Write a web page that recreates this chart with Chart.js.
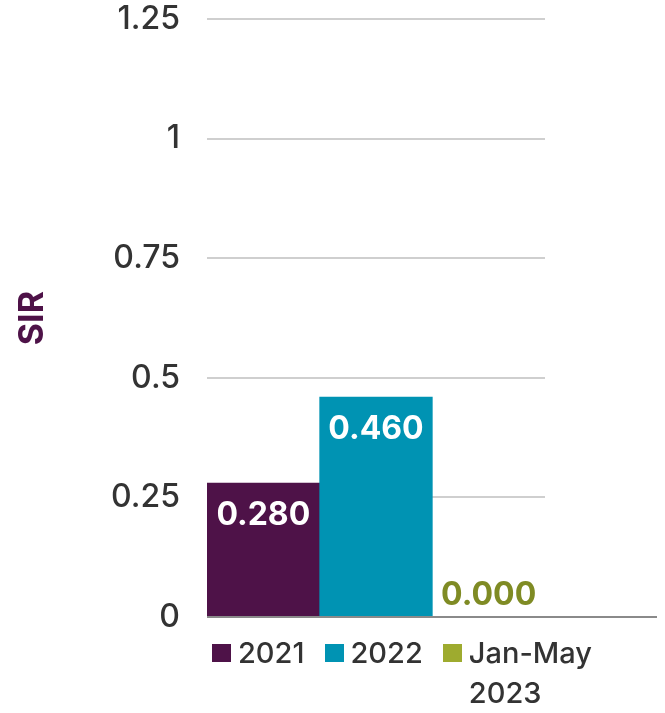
<!DOCTYPE html>
<html>
<head>
<meta charset="utf-8">
<script src="https://cdn.jsdelivr.net/npm/chart.js@4/dist/chart.umd.min.js"></script>
<style>
  body { margin: 0; background: #fff; }
  #wrap { position: relative; width: 665px; height: 713px; }
  #legend {
    position: absolute; left: 212px; top: 633px; width: 400px;
    display: flex; align-items: flex-start;
    font-family: Inter, sans-serif; font-size: 29px; font-weight: 500; line-height: 40px; color: #333;
  }
  .item { display: flex; align-items: flex-start; margin-right: 20px; }
  .item:last-child { margin-right: 0; }
  .box { width: 19px; height: 18px; margin-top: 11px; margin-right: 7px; flex-shrink: 0; }
</style>
</head>
<body>
<div id="wrap">
  <canvas id="chart" width="665" height="713"></canvas>
  <div id="legend"></div>
</div>
<script>
// chart data
const periods = ['2021', '2022', 'Jan-May 2023'];
const sirValues = [0.280, 0.460, 0.000];
const barColors = ['#4e1248', '#0093b3', '#9eab2f'];
const labelColors = ['#ffffff', '#ffffff', '#7f8b24'];

const fontFamily = 'Inter, sans-serif';

// draws the value labels on top of each bar
const valueLabels = {
    id: 'valueLabels',
    afterDatasetsDraw(chart) {
        const ctx = chart.ctx;
        const meta = chart.getDatasetMeta(0);
        ctx.save();
        ctx.font = 'bold 32px ' + fontFamily;
        ctx.textAlign = 'center';
        ctx.textBaseline = 'middle';
        meta.data.forEach((bar, i) => {
            const v = sirValues[i];
            ctx.fillStyle = labelColors[i];
            const y = v > 0 ? bar.y + 32 : bar.y - 22;
            ctx.fillText(v.toFixed(3), bar.x, y);
        });
        ctx.restore();
    }
};

// the zero line runs past the plot area
const baseLine = {
    id: 'baseLine',
    afterDatasetsDraw(chart) {
        const ctx = chart.ctx;
        const y = chart.scales.y.getPixelForValue(0);
        ctx.save();
        ctx.strokeStyle = '#8a8a8a';
        ctx.lineWidth = 2;
        ctx.beginPath();
        ctx.moveTo(chart.chartArea.left, y);
        ctx.lineTo(chart.width - 8, y);
        ctx.stroke();
        ctx.restore();
    }
};

new Chart(document.getElementById('chart'), {
    type: 'bar',
    data: {
        labels: periods,
        datasets: [{
            label: 'SIR',
            data: sirValues,
            backgroundColor: barColors,
            borderWidth: 0,
            categoryPercentage: 1,
            barPercentage: 1
        }]
    },
    options: {
        responsive: false,
        animation: false,
        layout: { padding: { left: 0, right: 120, top: 0, bottom: 96 } },
        plugins: {
            legend: { display: false },
            tooltip: { enabled: false }
        },
        scales: {
            x: { display: false },
            y: {
                min: 0,
                max: 1.25,
                afterFit(scale) { scale.width = 207; },
                border: { display: false },
                grid: { color: '#cfcfcf', lineWidth: 2, drawTicks: true, tickLength: 27, tickColor: 'rgba(0,0,0,0)' },
                ticks: {
                    stepSize: 0.25,
                    padding: 0,
                    color: '#333',
                    font: { family: fontFamily, size: 32, weight: 500 },
                    callback: v => String(v)
                },
                title: {
                    display: true,
                    text: 'SIR',
                    color: '#4e1248',
                    padding: { top: 12, bottom: 0 },
                    font: { family: fontFamily, size: 34, weight: 'bold' }
                }
            }
        }
    },
    plugins: [valueLabels, baseLine]
});

// legend below the chart
const legend = document.getElementById('legend');
periods.forEach((p, i) => {
    const item = document.createElement('div');
    item.className = 'item';
    if (i < periods.length - 1) item.style.flexShrink = '0';
    const box = document.createElement('span');
    box.className = 'box';
    box.style.background = barColors[i];
    const txt = document.createElement('span');
    txt.textContent = p;
    item.appendChild(box);
    item.appendChild(txt);
    legend.appendChild(item);
});
</script>
</body>
</html>
